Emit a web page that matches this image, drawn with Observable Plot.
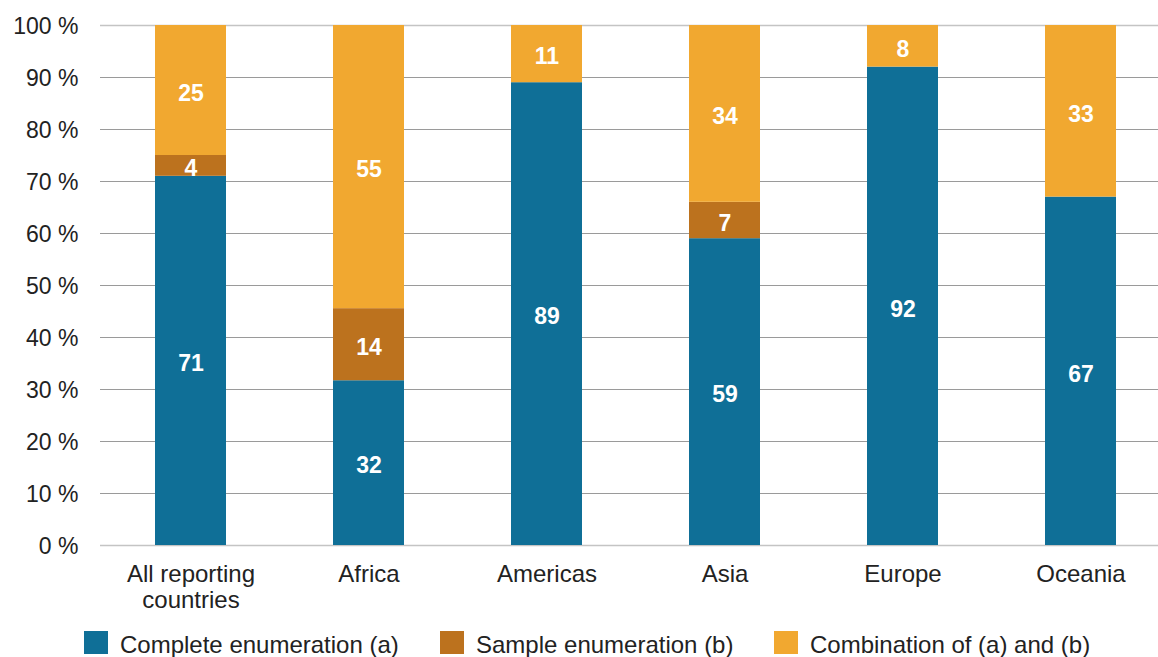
<!DOCTYPE html>
<html><head><meta charset="utf-8">
<script src="https://cdn.jsdelivr.net/npm/d3@7"></script>
<script src="https://cdn.jsdelivr.net/npm/@observablehq/plot@0.6"></script>
<style>
body{margin:0;background:#fff;font-family:"Liberation Sans",Arial,Helvetica,sans-serif;}
#wrap{position:relative;width:1158px;height:657px;overflow:hidden;background:#fff}
.sw{position:absolute;top:631px;width:24px;height:23px}
.lt{position:absolute;top:633px;font-size:24px;line-height:24px;color:#222;white-space:nowrap}
</style></head><body><div id="wrap"></div>
<script>
const regions = ["All reporting countries","Africa","Americas","Asia","Europe","Oceania"];
const series = ["Complete enumeration (a)","Sample enumeration (b)","Combination of (a) and (b)"];
const complete = [71,32,89,59,92,67];
const sample = [4,14,0,7,0,0];
const combination = [25,55,11,34,8,33];
const yTicks = [0,10,20,30,40,50,60,70,80,90,100];
const colors = ["#0f6f97","#bc721e","#f1a830"];
const legendX = [84,440,774];

const data = regions.flatMap((r,i)=>[complete,sample,combination].map((arr,j)=>({region:r, series:series[j], value:arr[i]})));

const chart = Plot.plot({
  width:1158, height:620,
  marginTop:25, marginBottom:75, marginLeft:100, marginRight:0,
  style:{fontFamily:"'Liberation Sans', Arial, sans-serif", color:"#222", background:"white", overflow:"visible"},
  x:{domain:regions, range:[46,1226], padding:0.6, label:null},
  y:{domain:[0,1], label:null},
  color:{domain:series, range:colors},
  marks:[
    Plot.ruleY(yTicks.filter(d=>d>0 && d<100), {y:d=>d/100, stroke:"#9a9a9a", strokeWidth:1}),
    Plot.ruleY(yTicks.filter(d=>d===0 || d===100), {y:d=>d/100, stroke:"#c4c4c4", strokeWidth:1.5}),
    Plot.barY(data, Plot.stackY({x:"region", y:"value", fill:"series", offset:"normalize"})),
    Plot.text(data, Plot.stackY({x:"region", y:"value", z:"series", offset:"normalize", filter:d=>d.value>0, text:d=>String(d.value), fill:"white", fontWeight:"bold", fontSize:23, dy:3})),
    Plot.axisY(yTicks.map(d=>d/100), {tickSize:0, tickPadding:22, fontSize:23, dy:1, tickFormat:d=>Math.round(d*100)+" %", label:null}),
    Plot.axisX({tickSize:0, tickPadding:19, fontSize:24, lineHeight:1.05, label:null, tickFormat:d=>d==="All reporting countries"?"All reporting\ncountries":d})
  ]
});
const wrap = document.getElementById("wrap");
wrap.appendChild(chart);
series.forEach((s,i)=>{
  const sw = document.createElement("div");
  sw.className="sw"; sw.style.left=legendX[i]+"px"; sw.style.background=colors[i];
  const t = document.createElement("div");
  t.className="lt"; t.style.left=(legendX[i]+36)+"px"; t.textContent=s;
  wrap.appendChild(sw); wrap.appendChild(t);
});
</script></body></html>
